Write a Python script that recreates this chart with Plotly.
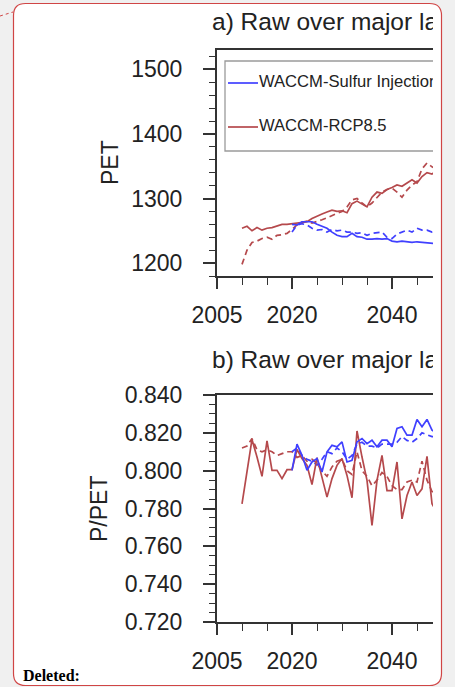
import plotly.graph_objects as go

# ---------------- data ----------------
years_rcp = list(range(2010, 2050))
years_sul = list(range(2020, 2050))

pet_rcp = [1254, 1257, 1250, 1255, 1251, 1254, 1255, 1257, 1260, 1260,
           1261, 1261, 1262, 1264, 1269, 1273, 1276, 1279, 1282, 1280,
           1281, 1278, 1292, 1296, 1292, 1287, 1302, 1310, 1308, 1314,
           1317, 1321, 1319, 1324, 1329, 1324, 1334, 1340, 1338, 1344]
pet_rcp_d = [1198, 1220, 1232, 1234, 1238, 1240, 1237, 1243, 1244, 1246,
             1252, 1259, 1263, 1265, 1262, 1264, 1267, 1270, 1274, 1277,
             1280, 1287, 1298, 1300, 1293, 1287, 1293, 1302, 1310, 1314,
             1316, 1310, 1302, 1313, 1321, 1326, 1346, 1355, 1349, 1345]
pet_sul = [1260, 1259, 1264, 1264, 1264, 1260, 1257, 1254, 1248, 1243,
           1241, 1241, 1246, 1241, 1240, 1237, 1237, 1238, 1237, 1238,
           1234, 1233, 1234, 1233, 1232, 1233, 1232, 1231, 1230, 1230]
pet_sul_d = [1248, 1259, 1261, 1259, 1254, 1251, 1252, 1248, 1252, 1250,
             1251, 1248, 1248, 1246, 1247, 1243, 1246, 1247, 1248, 1240,
             1238, 1245, 1248, 1251, 1248, 1254, 1251, 1251, 1248, 1249]

ppet_rcp = [0.7825, 0.7993, 0.8165, 0.8072, 0.7970, 0.8157, 0.8002, 0.8002, 0.7958, 0.8005,
            0.8005, 0.8112, 0.8064, 0.8028, 0.7927, 0.8069, 0.7966, 0.7860, 0.7958, 0.8028,
            0.8064, 0.7975, 0.7857, 0.8210, 0.8072, 0.7949, 0.7710, 0.7949, 0.8081, 0.7895,
            0.7895, 0.8046, 0.7745, 0.7869, 0.7940, 0.7869, 0.7904, 0.8076, 0.7825, 0.7780]
ppet_rcp_d = [0.812, 0.813, 0.817, 0.811, 0.810, 0.811, 0.810, 0.808, 0.809, 0.810,
              0.810, 0.807, 0.808, 0.805, 0.806, 0.804, 0.800, 0.797, 0.802, 0.805,
              0.806, 0.800, 0.798, 0.810, 0.800, 0.797, 0.792, 0.795, 0.799, 0.797,
              0.792, 0.790, 0.790, 0.794, 0.795, 0.794, 0.805, 0.795, 0.789, 0.787]
ppet_sul = [0.8002, 0.8140, 0.8081, 0.8002, 0.8046, 0.8064, 0.7993, 0.8099, 0.8134, 0.8126,
            0.8152, 0.8046, 0.8055, 0.8152, 0.8170, 0.8143, 0.8161, 0.8126, 0.8161, 0.8161,
            0.8126, 0.8223, 0.8232, 0.8188, 0.8188, 0.8271, 0.8232, 0.8271, 0.8214, 0.8200]
ppet_sul_d = [0.810, 0.812, 0.808, 0.806, 0.805, 0.803, 0.806, 0.810, 0.809, 0.812,
              0.810, 0.806, 0.808, 0.814, 0.815, 0.813, 0.813, 0.812, 0.814, 0.814,
              0.814, 0.815, 0.818, 0.816, 0.815, 0.817, 0.820, 0.819, 0.818, 0.818]

x_tickvals = [2005, 2020, 2040, 2060, 2080, 2100]
title_a = "a) Raw over major land"
title_b = "b) Raw over major land"
series_names = ["WACCM-Sulfur Injection", "WACCM-RCP8.5"]

# ---------------- layout helpers ----------------
W, H = 455, 687
def px(x): return x / W
def py(y): return 1 - y / H

BLUE = "#4040ff"
RED = "#b5494c"
AX = "#333333"
FONT = "Liberation Sans"

L, R = 217, 433
TOP1, BOT1 = 50, 276
TOP2, BOT2 = 395, 622

fig = go.Figure()

def add_series(xa, ya, xs, ys, color, dash):
    fig.add_trace(go.Scatter(x=xs, y=ys, mode="lines", xaxis=xa, yaxis=ya,
                             line=dict(color=color, width=1.7, dash=dash),
                             showlegend=False, hoverinfo="skip"))

add_series("x", "y", years_rcp, pet_rcp_d, RED, "6px,4px")
add_series("x", "y", years_sul, pet_sul_d, BLUE, "6px,4px")
add_series("x", "y", years_rcp, pet_rcp, RED, "solid")
add_series("x", "y", years_sul, pet_sul, BLUE, "solid")

add_series("x2", "y2", years_rcp, ppet_rcp_d, RED, "6px,4px")
add_series("x2", "y2", years_sul, ppet_sul_d, BLUE, "6px,4px")
add_series("x2", "y2", years_rcp, ppet_rcp, RED, "solid")
add_series("x2", "y2", years_sul, ppet_sul, BLUE, "solid")

# clipped titles (hidden helper axes)
for ttl, xa, ya in [(title_a, "x3", "y3"), (title_b, "x4", "y4")]:
    fig.add_trace(go.Scatter(x=[0], y=[0.5], mode="text", text=[ttl],
                             textposition="middle right", xaxis=xa, yaxis=ya,
                             textfont=dict(family=FONT, size=24.5, color="#222"),
                             cliponaxis=True, showlegend=False, hoverinfo="skip"))

# legend (clipped) in helper axis over top panel
def fx(x): return (x - L) / (R - L)
def fy(y): return 1 - (y - TOP1) / (BOT1 - TOP1)

fig.add_trace(go.Scatter(x=[1.2, fx(225), fx(225), 1.2], y=[fy(61), fy(61), fy(151), fy(151)],
                         mode="lines", line=dict(color="#9a9a9a", width=1.3),
                         xaxis="x5", yaxis="y5", showlegend=False, hoverinfo="skip"))
for name, col, yy in [(series_names[0], BLUE, 83), (series_names[1], RED, 127)]:
    fig.add_trace(go.Scatter(x=[fx(228), fx(258)], y=[fy(yy), fy(yy)], mode="lines",
                             line=dict(color=col, width=1.7), xaxis="x5", yaxis="y5",
                             showlegend=False, hoverinfo="skip"))
    fig.add_trace(go.Scatter(x=[fx(259)], y=[fy(yy)], mode="text", text=[name],
                             textposition="middle right", xaxis="x5", yaxis="y5",
                             textfont=dict(family=FONT, size=16.6, color="#222"),
                             cliponaxis=True, showlegend=False, hoverinfo="skip"))

xcommon = dict(range=[2005, 2005 + (R - L) / 5.0], tickmode="array", tickvals=x_tickvals,
               ticktext=[str(v) for v in x_tickvals],
               showline=True, linecolor=AX, linewidth=2, mirror=True,
               ticks="outside", ticklen=11, tickwidth=1.6, tickcolor=AX,
               minor=dict(tickmode="linear", tick0=2005, dtick=5, ticks="outside",
                          ticklen=6.5, tickwidth=1.3, tickcolor=AX),
               showgrid=False, zeroline=False, fixedrange=True, automargin=False,
               tickfont=dict(family=FONT, size=23, color="#222"),
               ticklabelstandoff=6)
ycommon = dict(showline=True, linecolor=AX, linewidth=2, mirror=False,
               ticks="outside", ticklen=12, tickwidth=1.6, tickcolor=AX,
               showgrid=False, zeroline=False, fixedrange=True, automargin=False,
               tickfont=dict(family=FONT, size=23, color="#222"),
               ticklabelstandoff=16)
hidden = dict(visible=False, range=[0, 1], fixedrange=True, showgrid=False,
              zeroline=False, automargin=False)

fig.update_layout(
    width=W, height=H, margin=dict(l=0, r=0, t=0, b=0, pad=0, autoexpand=False),
    paper_bgcolor="#f0f0f0", plot_bgcolor="rgba(0,0,0,0)",
    showlegend=False,
    xaxis=dict(domain=[px(L), px(R)], anchor="y", **xcommon),
    yaxis=dict(domain=[py(BOT1), py(TOP1)], anchor="x", range=[1180, 1530],
               tickmode="linear", tick0=1200, dtick=100,
               minor=dict(tickmode="linear", tick0=1200, dtick=20, ticks="outside",
                          ticklen=6.5, tickwidth=1.3, tickcolor=AX),
               **ycommon),
    xaxis2=dict(domain=[px(L), px(R)], anchor="y2", **xcommon),
    yaxis2=dict(domain=[py(BOT2), py(TOP2)], anchor="x2", range=[0.72, 0.84],
                tickmode="linear", tick0=0.72, dtick=0.02, tickformat=".3f",
                minor=dict(tickmode="linear", tick0=0.72, dtick=0.005, ticks="outside",
                           ticklen=6.5, tickwidth=1.3, tickcolor=AX),
                **ycommon),
    xaxis3=dict(domain=[px(212), px(R)], anchor="y3", **hidden),
    yaxis3=dict(domain=[py(48), py(0)], anchor="x3", **hidden),
    xaxis4=dict(domain=[px(212), px(R)], anchor="y4", **hidden),
    yaxis4=dict(domain=[py(385), py(339)], anchor="x4", **hidden),
    xaxis5=dict(domain=[px(L), px(R)], anchor="y5", **hidden),
    yaxis5=dict(domain=[py(BOT1), py(TOP1)], anchor="x5", **hidden),
)

# document frame (rounded box)
x0, y0, x1, y1, r = px(13.5), py(3.5), px(441.5), py(685.5), 12
rx, ry = r / W, r / H
path = (f"M {x0+rx},{y0} L {x1-rx},{y0} Q {x1},{y0} {x1},{y0-ry} "
        f"L {x1},{y1+ry} Q {x1},{y1} {x1-rx},{y1} L {x0+rx},{y1} "
        f"Q {x0},{y1} {x0},{y1+ry} L {x0},{y0-ry} Q {x0},{y0} {x0+rx},{y0} Z")
fig.add_shape(type="path", path=path, xref="paper", yref="paper",
              fillcolor="white", line=dict(color="#d04545", width=1.2), layer="below")
fig.add_shape(type="line", xref="paper", yref="paper", x0=px(0), y0=py(16), x1=px(13), y1=py(12),
              line=dict(color="#d04545", width=1, dash="dot"))

fig.add_annotation(x=px(110), y=py(163), xref="paper", yref="paper", text="PET",
                   textangle=-90, showarrow=False, xanchor="center", yanchor="middle",
                   font=dict(family=FONT, size=23, color="#222"))
fig.add_annotation(x=px(99), y=py(509), xref="paper", yref="paper", text="P/PET",
                   textangle=-90, showarrow=False, xanchor="center", yanchor="middle",
                   font=dict(family=FONT, size=23, color="#222"))
fig.add_annotation(x=px(21), y=py(675), xref="paper", yref="paper", text="<b>Deleted:</b>",
                   xanchor="left", yanchor="middle", showarrow=False,
                   font=dict(family="Liberation Serif", size=16, color="black"))

fig.write_html("out.html")
